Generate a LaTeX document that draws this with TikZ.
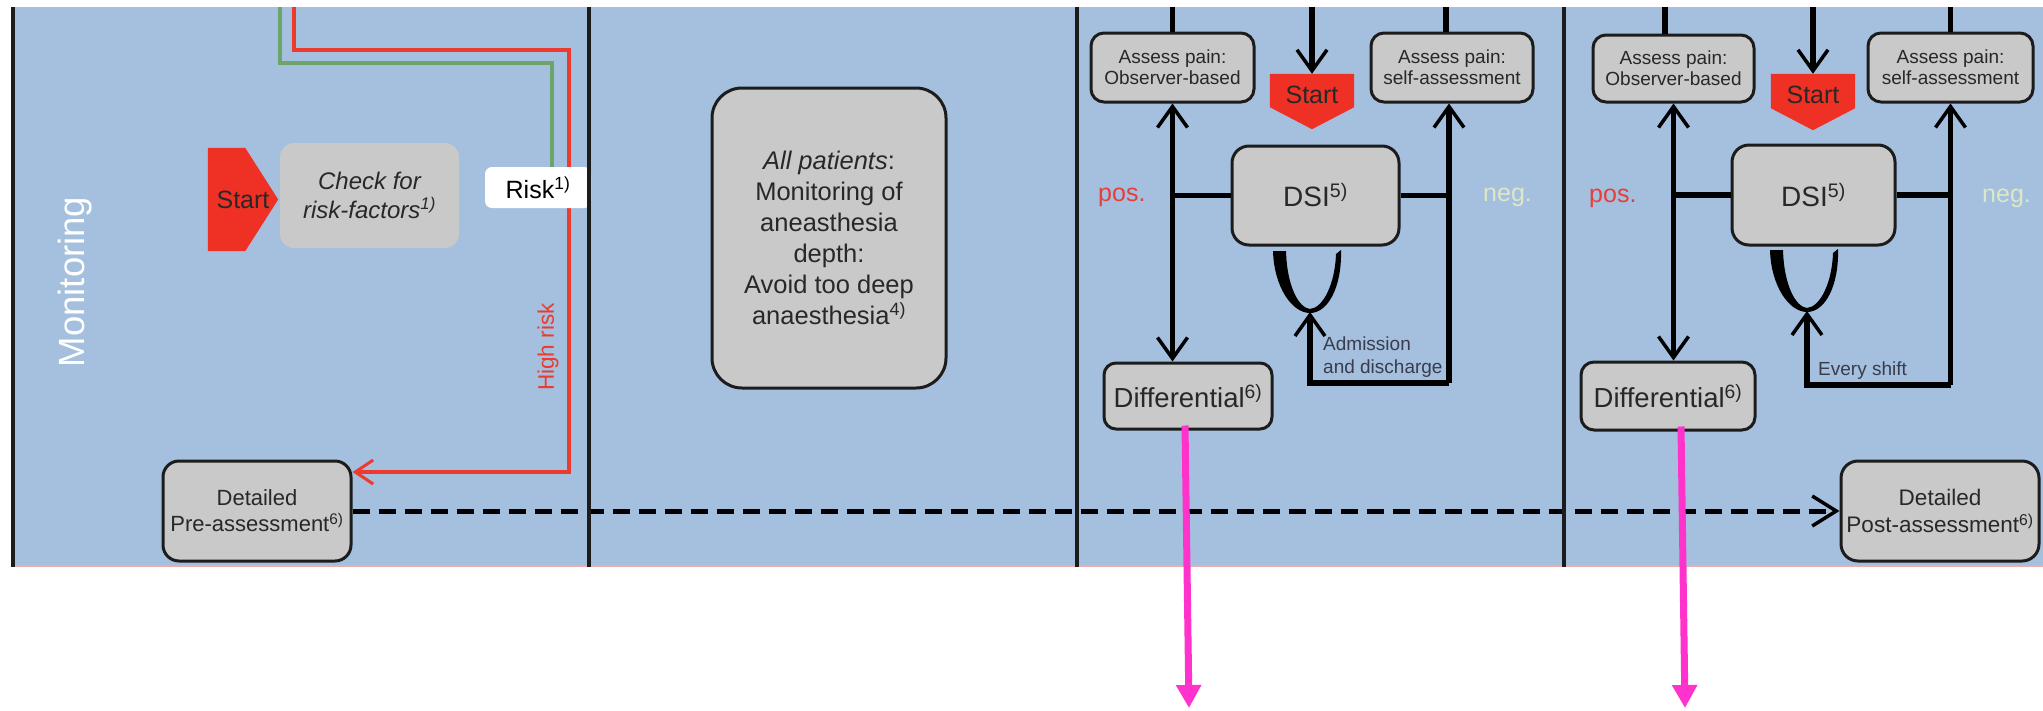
\documentclass[tikz,border=0pt]{standalone}
\usepackage{fontspec}
\setmainfont{Liberation Sans}
\usetikzlibrary{arrows.meta,calc}

\pgfdeclarelayer{band}
\pgfdeclarelayer{fills}
\pgfsetlayers{band,fills,main}

\definecolor{laneblue}{RGB}{164,192,222}
\definecolor{bandedge}{RGB}{236,172,172}
\definecolor{boxgrey}{RGB}{201,201,201}
\definecolor{startred}{RGB}{238,49,36}
\definecolor{riskred}{RGB}{236,58,46}
\definecolor{riskgreen}{RGB}{107,165,107}
\definecolor{negtext}{RGB}{220,232,198}
\definecolor{postext}{RGB}{232,62,58}
\definecolor{inktext}{RGB}{40,40,40}
\definecolor{notetext}{RGB}{58,60,76}
\definecolor{linkmag}{RGB}{255,51,204}
\definecolor{edgeink}{RGB}{28,28,28}

\newcommand{\fsz}[2]{\fontsize{#1}{#2}\selectfont}
\newcommand{\lowered}[1]{\raisebox{-4pt}[\height][\depth]{#1}}

\begin{document}
\begin{tikzpicture}[x=1pt,y=-1pt,
  greybox/.style={draw=edgeink, line width=3pt, fill=boxgrey, inner sep=0pt,
    align=center, text=inktext},
  flowline/.style={draw=black, line width=5.5pt},
  openhead/.style={-{Straight Barb[length=21pt,width=30pt,line width=3.5pt]}},
  lanerule/.style={draw=edgeink, line width=4pt},
  starttext/.style={inner sep=0pt, text=inktext, font={\fsz{25}{30}}},
  smalltext/.style={anchor=base west, inner sep=0pt, text=notetext, font={\fsz{19}{23}}},
  signtext/.style={anchor=base west, inner sep=0pt, font={\fsz{25}{30}}},
  magarrow/.style={draw=linkmag, line width=7pt, -{Triangle[length=23pt,width=24pt]}}
]
\useasboundingbox (0,0) rectangle (2043,710);

% swim-lane background
\begin{pgfonlayer}{band}
  \fill[white] (0,0) rectangle (2043,710);
  \fill[laneblue] (13,7) rectangle (2043,566);
  \draw[bandedge, line width=1.5pt] (13,566) -- (2043,566);
\end{pgfonlayer}

\coordinate (topedge) at (0,7);

% ---------------- lane 1 ----------------
\node[text=white, rotate=90, inner sep=0pt, font={\fsz{36.5}{40}}] (lanetitle) at (75,282) {Monitoring};

\node[starttext, minimum width=70pt, minimum height=103pt] (start1) at (243,199.5) {Start};
\node[fill=boxgrey, rounded corners=14pt, inner sep=0pt, minimum width=179pt,
      minimum height=105pt, align=center, text=inktext, font={\fsz{24}{29}\itshape}]
      (check) at (369.5,195.5) {Check for\\risk-factors\textsuperscript{1)}};
\node[greybox, rounded corners=16pt, minimum width=188pt, minimum height=100pt,
      font={\fsz{22}{26}}] (pre) at (257,511) {Detailed\\Pre-assessment\textsuperscript{6)}};

% high-risk route, passing behind the risk tag
\coordinate (rtop) at (294,7);
\coordinate (rbend) at (569,50);
\coordinate (rlow) at (569,472);
\draw[riskred, line width=3.5pt, -{Straight Barb[length=18pt,width=24pt,line width=3pt]}]
  (rtop) |- (rbend) -- (rlow) -- (rlow -| pre.east);

\node[fill=white, rounded corners=7pt, inner sep=0pt, minimum width=106pt,
      minimum height=41pt, text=black, font={\fsz{25}{30}}] (risk) at (538,187.5) {Risk\textsuperscript{1)}};

\coordinate (gtop) at (280,7);
\coordinate (gbend) at (552,63);
\draw[riskgreen, line width=4pt] (gtop) |- (gbend) -- (gbend |- risk.north);

\node[rotate=90, inner sep=0pt, text=riskred, font={\fsz{22.5}{26}}] (highrisk) at (548,347) {High risk};

% ---------------- lane 2 ----------------
\node[greybox, rounded corners=30pt, minimum width=234pt, minimum height=300pt,
      font={\fsz{25.5}{31}}] (allpat) at (829,238)
  {\textit{All patients}:\\Monitoring of\\aneasthesia\\depth:\\Avoid too deep\\anaesthesia\textsuperscript{4)}};

% ---------------- lane 3 ----------------
\node[greybox, rounded corners=13pt, minimum width=163pt, minimum height=69pt,
      font={\fsz{19}{21}}] (obs3) at (1172.5,67.5) {Assess pain:\\Observer-based};
\node[greybox, rounded corners=13pt, minimum width=162pt, minimum height=69pt,
      font={\fsz{19}{21}}] (self3) at (1452,67.5) {Assess pain:\\self-assessment};
\node[starttext, minimum width=84pt, minimum height=33pt] (start3) at (1312,90.5) {\lowered{Start}};
\node[greybox, rounded corners=17pt, minimum width=167pt, minimum height=99pt,
      font={\fsz{28}{32}}] (dsi3) at (1315.5,195.5) {DSI\textsuperscript{5)}};
\node[greybox, rounded corners=12pt, minimum width=168pt, minimum height=66pt,
      font={\fsz{27.5}{32}}] (diff3) at (1188,396) {Differential\textsuperscript{6)}};

\coordinate (jl3) at (dsi3.west -| obs3.south);
\coordinate (jr3) at (1449,195.5);
\coordinate (c3) at (1449,383);
\coordinate (u3) at (1310,312);
\coordinate (t3r) at (1446,7);

\draw[flowline] (topedge -| obs3.north) -- (obs3.north);
\draw[flowline] (t3r) -- (t3r |- self3.north);
\draw[flowline, openhead] (topedge -| start3.north) -- (start3.north);
\draw[flowline] (dsi3.west) -- (jl3);
\draw[flowline, openhead] (jl3) -- (obs3.south);
\draw[flowline, openhead] (jl3) -- (jl3 |- diff3.north);
\draw[flowline] (dsi3.east) -- (jr3);
\draw[flowline, openhead] (c3) -- (c3 |- self3.south);
\draw[flowline, openhead] (c3) -| (u3);

\node[signtext, text=postext] (pos3) at (1098,201) {pos.};
\node[signtext, text=negtext] (neg3) at (1483,201) {neg.};
\node[smalltext] (adm3a) at (1323,350) {Admission};
\node[smalltext] (adm3b) at (1323,373) {and discharge};

% ---------------- lane 4 ----------------
\node[greybox, rounded corners=13pt, minimum width=161pt, minimum height=67pt,
      font={\fsz{19}{21}}] (obs4) at (1673.5,68.5) {Assess pain:\\Observer-based};
\node[greybox, rounded corners=13pt, minimum width=165pt, minimum height=69pt,
      font={\fsz{19}{21}}] (self4) at (1950.5,67.5) {Assess pain:\\self-assessment};
\node[starttext, minimum width=84pt, minimum height=34pt] (start4) at (1813,91) {\lowered{Start}};
\node[greybox, rounded corners=17pt, minimum width=163pt, minimum height=100pt,
      font={\fsz{28}{32}}] (dsi4) at (1813.5,195) {DSI\textsuperscript{5)}};
\node[greybox, rounded corners=13pt, minimum width=174pt, minimum height=68pt,
      font={\fsz{27.5}{32}}] (diff4) at (1668,396) {Differential\textsuperscript{6)}};
\node[greybox, rounded corners=17pt, minimum width=198pt, minimum height=100pt,
      font={\fsz{22.5}{27}}] (post) at (1940,511) {Detailed\\Post-assessment\textsuperscript{6)}};

\coordinate (jl4) at (dsi4.west -| obs4.south);
\coordinate (jr4) at (dsi4.east -| self4.south);
\coordinate (c4) at (1950.5,385);
\coordinate (u4) at (1807,311);
\coordinate (t4l) at (1665,7);

\draw[flowline] (t4l) -- (t4l |- obs4.north);
\draw[flowline] (topedge -| self4.north) -- (self4.north);
\draw[flowline, openhead] (topedge -| start4.north) -- (start4.north);
\draw[flowline] (dsi4.west) -- (jl4);
\draw[flowline, openhead] (jl4) -- (obs4.south);
\draw[flowline, openhead] (jl4) -- (jl4 |- diff4.north);
\draw[flowline] (dsi4.east) -- (jr4);
\draw[flowline, openhead] (c4) -- (c4 |- self4.south);
\draw[flowline, openhead] (c4) -| (u4);

\node[signtext, text=postext] (pos4) at (1589,202) {pos.};
\node[signtext, text=negtext] (neg4) at (1982,202) {neg.};
\node[smalltext] (shift4) at (1818,375) {Every shift};

% red start markers and cycle cups
\begin{pgfonlayer}{fills}
  \fill[startred] (start1.north west) -- ([xshift=-33pt]start1.north east) -- (start1.east)
    -- ([xshift=-33pt]start1.south east) -- (start1.south west) -- cycle;
  \fill[startred] (start3.north west) -- (start3.north east) -- (start3.south east)
    -- ([yshift=-22pt]start3.south) -- (start3.south west) -- cycle;
  \fill[startred] (start4.north west) -- (start4.north east) -- (start4.south east)
    -- ([yshift=-22pt]start4.south) -- (start4.south west) -- cycle;
\end{pgfonlayer}

\foreach \cup in {u3,u4}{
  \fill[black, shift={(\cup)}]
    (-37,-61) .. controls (-36,-25) and (-18,1) .. (0,1)
    .. controls (18,1) and (32,-25) .. (31,-62)
    -- (26,-58) .. controls (25,-28) and (13,-4) .. (0,-3)
    .. controls (-11,-4) and (-23,-25) .. (-24,-61) -- cycle;
}

% dashed pre- to post-assessment link
\draw[line width=5pt, dash pattern=on 17pt off 9pt,
  -{Straight Barb[length=24pt,width=30pt,line width=3.5pt]}] (pre.east) -- (post.west);

% lane separators
\draw[lanerule] (13,7) -- (13,567);
\draw[lanerule] (589,7) -- (589,567);
\draw[lanerule] (1077,7) -- (1077,567);
\draw[lanerule] (1564,7) -- (1564,567);

% links leaving the differential diagnosis boxes
\coordinate (m3) at (1189,708);
\coordinate (m4) at (1685,708);
\draw[magarrow] ([xshift=-3pt,yshift=5pt]diff3.south) -- (m3);
\draw[magarrow] ([xshift=13pt,yshift=5pt]diff4.south) -- (m4);
\end{tikzpicture}
\end{document}
